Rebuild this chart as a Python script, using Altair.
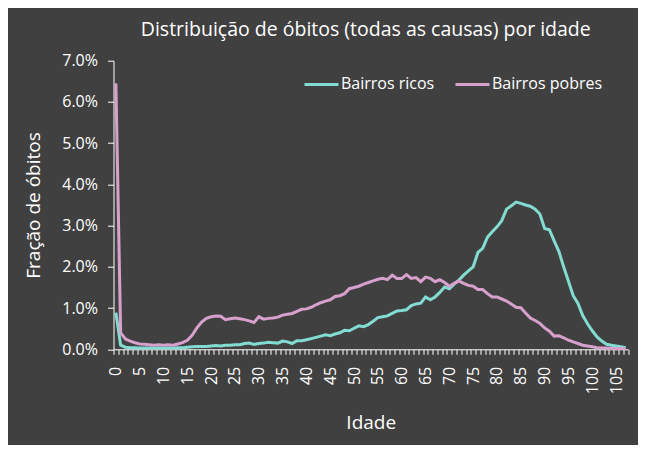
import altair as alt
import pandas as pd

idade = list(range(0, 108))

ricos = [
    0.89, 0.10, 0.05, 0.04, 0.04, 0.03, 0.03, 0.03, 0.03, 0.03,
    0.03, 0.03, 0.03, 0.04, 0.04, 0.05, 0.06, 0.07, 0.07, 0.07,
    0.08, 0.09, 0.08, 0.10, 0.10, 0.11, 0.11, 0.14, 0.15, 0.12,
    0.14, 0.15, 0.17, 0.16, 0.15, 0.20, 0.18, 0.14, 0.21, 0.21,
    0.23, 0.26, 0.29, 0.32, 0.35, 0.33, 0.37, 0.40, 0.46, 0.45,
    0.51, 0.57, 0.55, 0.60, 0.68, 0.77, 0.79, 0.81, 0.87, 0.93,
    0.94, 0.96, 1.06, 1.10, 1.12, 1.27, 1.20, 1.27, 1.38, 1.51,
    1.47, 1.58, 1.68, 1.80, 1.90, 2.00, 2.35, 2.45, 2.72, 2.85,
    2.97, 3.12, 3.40, 3.48, 3.57, 3.54, 3.50, 3.47, 3.40, 3.28,
    2.93, 2.90, 2.63, 2.37, 2.00, 1.65, 1.30, 1.11, 0.82, 0.62,
    0.45, 0.30, 0.20, 0.12, 0.10, 0.08, 0.06, 0.04,
]

pobres = [
    6.45, 0.40, 0.25, 0.20, 0.16, 0.13, 0.12, 0.11, 0.10, 0.11,
    0.10, 0.11, 0.10, 0.13, 0.16, 0.22, 0.34, 0.52, 0.66, 0.75,
    0.79, 0.81, 0.80, 0.72, 0.74, 0.76, 0.74, 0.72, 0.69, 0.65,
    0.79, 0.73, 0.75, 0.76, 0.78, 0.83, 0.85, 0.87, 0.92, 0.97,
    0.98, 1.02, 1.08, 1.13, 1.17, 1.20, 1.28, 1.30, 1.35, 1.47,
    1.50, 1.53, 1.58, 1.62, 1.66, 1.70, 1.72, 1.69, 1.80, 1.72,
    1.72, 1.81, 1.72, 1.74, 1.64, 1.75, 1.72, 1.64, 1.69, 1.62,
    1.53, 1.60, 1.66, 1.60, 1.55, 1.53, 1.45, 1.45, 1.35, 1.27,
    1.27, 1.22, 1.17, 1.10, 1.02, 1.01, 0.88, 0.76, 0.70, 0.63,
    0.52, 0.44, 0.32, 0.33, 0.28, 0.22, 0.18, 0.14, 0.10, 0.08,
    0.06, 0.04, 0.03, 0.03, 0.02, 0.02, 0.02, 0.02,
]

series = ["Bairros ricos", "Bairros pobres"]
cores = ["#82DCD1", "#D8A0CC"]

y_ticks = [0, 1, 2, 3, 4, 5, 6, 7]
x_label_vals = list(range(0, 106, 5))
x_tick_vals = [i - 0.5 for i in range(0, 109)]

rows = []
for a, r, p in zip(idade, ricos, pobres):
    rows.append({"idade": a, "serie": series[0], "valor": r})
    rows.append({"idade": a, "serie": series[1], "valor": p})
df = pd.DataFrame(rows)

FONT = "Open Sans"
BG = "#404040"
W = 514.5
H = 288.6

x_axis = alt.Axis(
    values=sorted(set(x_tick_vals + x_label_vals)),
    labelExpr="(datum.value % 5 == 0) ? datum.label : ''",
    labelAngle=-90,
    labelAlign="right",
    labelBaseline="middle",
    labelPadding=12,
    labelOverlap=False,
    labelFlush=False,
    labelBound=False,
    tickSize=5,
    tickOpacity={"condition": {"test": "datum.value % 1 == 0", "value": 0}, "value": 1},
    grid=False,
    title="Idade",
    titleY=73,
    titleBaseline="middle",
)

y_axis = alt.Axis(
    values=y_ticks,
    labelExpr="format(datum.value, '.1f') + '%'",
    tickSize=6,
    labelPadding=10,
    grid=False,
    title="Fração de óbitos",
    titleX=-80,
    titleBaseline="middle",
)

chart = (
    alt.Chart(df)
    .mark_line(strokeWidth=3)
    .encode(
        x=alt.X("idade:Q", scale=alt.Scale(domain=[-0.5, 107.5], nice=False, zero=False), axis=x_axis),
        y=alt.Y("valor:Q", scale=alt.Scale(domain=[0, 7], nice=False), axis=y_axis),
        color=alt.Color(
            "serie:N",
            scale=alt.Scale(domain=series, range=cores),
            sort=series,
            legend=alt.Legend(
                title=None,
                orient="none",
                direction="horizontal",
                legendX=189.5,
                legendY=5,
                symbolType="stroke",
                symbolSize=1156,
                symbolStrokeWidth=3,
                labelOffset=1,
                columnPadding=14,
                labelFontSize=16,
                labelFont=FONT,
                labelColor="#FFFFFF",
                labelLimit=300,
            ),
        ),
    )
    .properties(
        width=W,
        height=H,
        autosize=alt.AutoSizeParams(type="none"),
        padding={"left": 105.5, "top": 52.7, "right": 10, "bottom": 95.7},
        background=BG,
        title=alt.TitleParams(
            "Distribuição de óbitos (todas as causas) por idade",
            font=FONT,
            fontSize=19.5,
            fontWeight="normal",
            color="#FFFFFF",
            anchor="middle",
            dx=-5,
            offset=12,
        ),
    )
    .configure_view(stroke=None)
    .configure_axis(
        domainColor="#FFFFFF",
        domainWidth=1,
        tickColor="#FFFFFF",
        tickWidth=1,
        labelColor="#FFFFFF",
        labelFont=FONT,
        labelFontSize=16,
        titleColor="#FFFFFF",
        titleFont=FONT,
        titleFontSize=19,
        titleFontWeight="normal",
    )
)

chart.save("out.html", embed_options={"renderer": "svg", "actions": False})
